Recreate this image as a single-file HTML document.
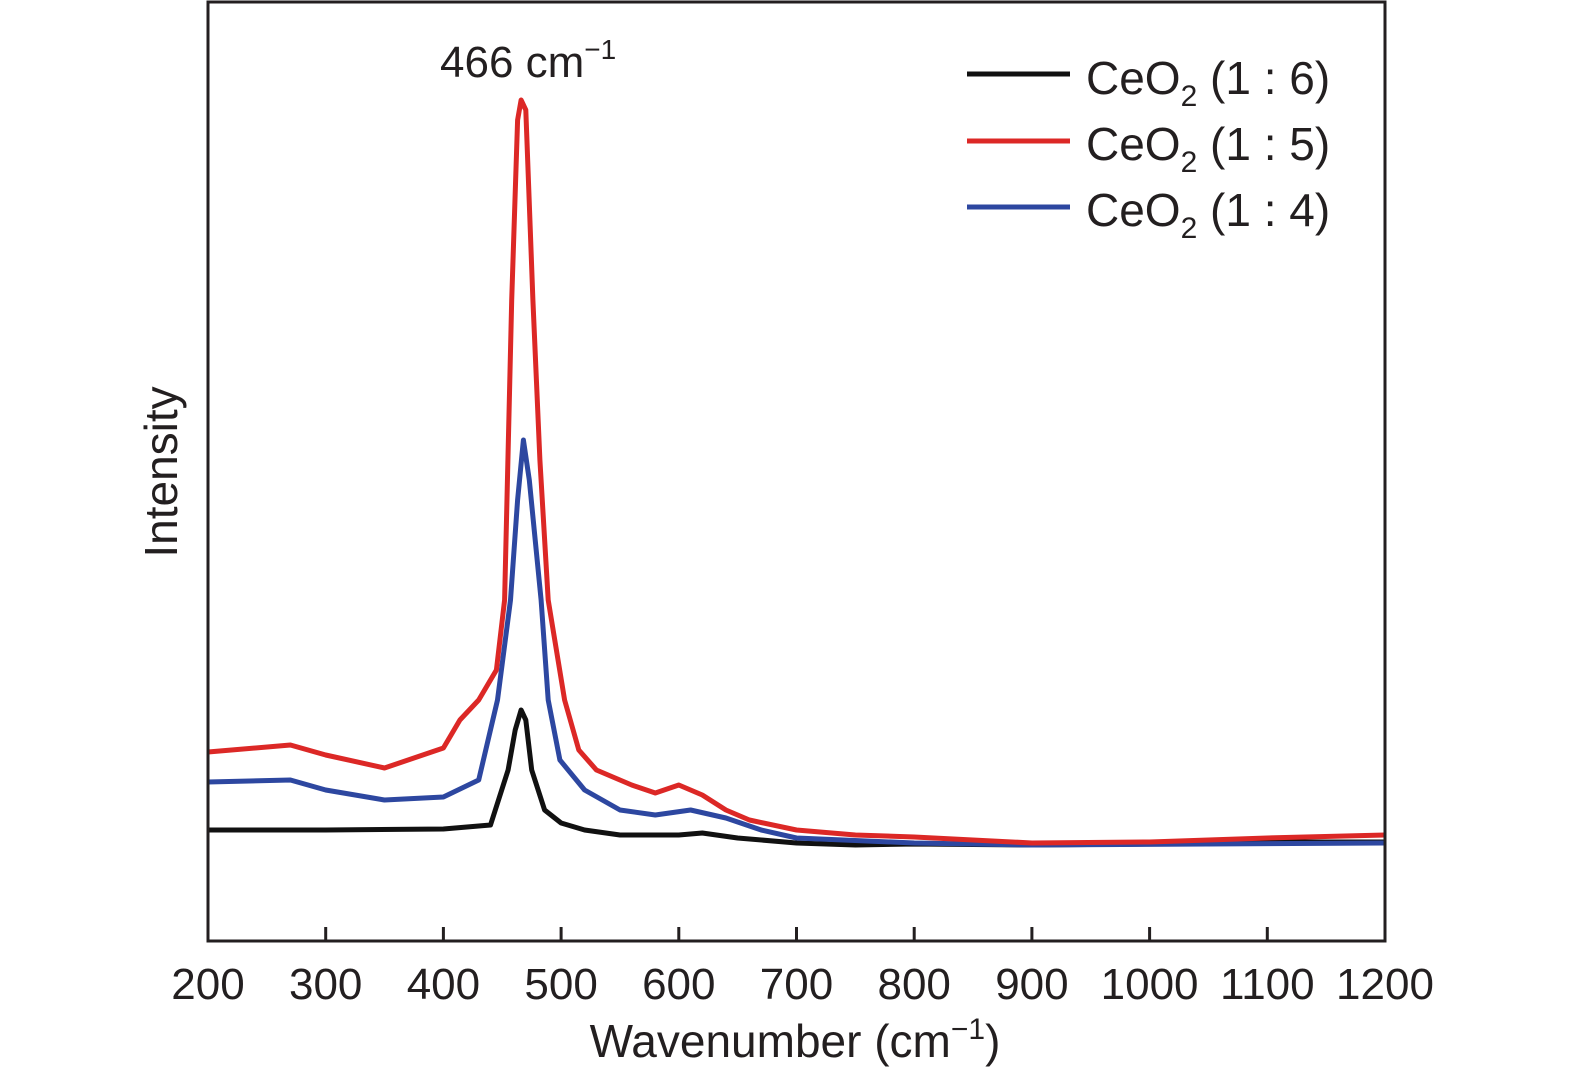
<!DOCTYPE html>
<html><head><meta charset="utf-8"><style>
body{margin:0;background:#fff;}
svg text{font-family:"Liberation Sans",sans-serif;fill:#231f20;}
</style></head><body>
<svg id="chart" width="1575" height="1079" viewBox="0 0 1575 1079" xmlns="http://www.w3.org/2000/svg">
<g id="series"></g>
<rect x="208" y="2" width="1177" height="939" fill="none" stroke="#231f20" stroke-width="3"/>
<g id="ticks"></g>
<text x="795" y="1057" font-size="46" text-anchor="middle">Wavenumber (cm<tspan font-size="30" dy="-18">−1</tspan><tspan dy="18">)</tspan></text>
<text transform="translate(177,472) rotate(-90)" font-size="46" text-anchor="middle">Intensity</text>
<text x="440" y="77" font-size="44">466 cm<tspan font-size="28" dy="-18">−1</tspan></text>
<g>
<line x1="967" y1="74" x2="1070" y2="74" stroke="#111" stroke-width="5"/>
<text x="1086" y="94" font-size="46">CeO<tspan font-size="30" dy="12">2</tspan><tspan dy="-12"> (1 : 6)</tspan></text>
<line x1="967" y1="141" x2="1070" y2="141" stroke="#dc2826" stroke-width="5"/>
<text x="1086" y="160" font-size="46">CeO<tspan font-size="30" dy="12">2</tspan><tspan dy="-12"> (1 : 5)</tspan></text>
<line x1="967" y1="207" x2="1070" y2="207" stroke="#2d47a0" stroke-width="5"/>
<text x="1086" y="226" font-size="46">CeO<tspan font-size="30" dy="12">2</tspan><tspan dy="-12"> (1 : 4)</tspan></text>
</g>
</svg>
<script>
const xTicks=[200,300,400,500,600,700,800,900,1000,1100,1200];
const blackX=[200,300,400,440,455,461,466,470,475,486,500,520,550,600,620,650,700,750,800,900,1000,1100,1200];
const blackY=[111,111,112,116,171,211,231,221,171,131,118,111,106,106,108,103,98,96,97,96,97,99,99];
const redX=[200,270,300,350,400,414,430,445,452,458,463,466,470,476,482,489,503,515,530,560,580,600,620,640,660,700,750,800,900,1000,1100,1200];
const redY=[189,196,186,173,193,221,241,271,341,641,821,841,831,641,481,341,241,191,171,156,148,156,146,131,121,111,106,104,98,99,103,106];
const blueX=[200,270,300,350,400,430,446,457,463,468,473,483,489,499,520,550,580,610,640,670,700,800,900,1200];
const blueY=[159,161,151,141,144,161,241,341,441,501,461,341,241,181,151,131,126,131,123,111,103,98,96,98];
const X0=208,X1=1385,Y0=941,Y1=2;
const sx=v=>X0+(v-200)/1000*(X1-X0);
const sy=v=>Y0-v/939*(Y0-Y1);
const NS="http://www.w3.org/2000/svg";
const g=document.getElementById('series');
function draw(xs,ys,color,name){
  const p=document.createElementNS(NS,'path');
  p.setAttribute('d',xs.map((x,i)=>(i?'L':'M')+sx(x).toFixed(1)+','+sy(ys[i]).toFixed(1)).join(''));
  p.setAttribute('fill','none');p.setAttribute('stroke',color);p.setAttribute('stroke-width','5');p.setAttribute('stroke-linejoin','round');
  
  
  g.appendChild(p);
}
draw(blackX,blackY,'#111','series-1-6');
draw(blueX,blueY,'#2d47a0','series-1-4');
draw(redX,redY,'#dc2826','series-1-5');
const t=document.getElementById('ticks');
xTicks.forEach(v=>{
  const l=document.createElementNS(NS,'line');
  l.setAttribute('x1',sx(v));l.setAttribute('x2',sx(v));l.setAttribute('y1',941);l.setAttribute('y2',927);
  l.setAttribute('stroke','#231f20');l.setAttribute('stroke-width','3');
  
  
  t.appendChild(l);
  const tx=document.createElementNS(NS,'text');
  tx.setAttribute('x',sx(v));tx.setAttribute('y',999);tx.setAttribute('font-size','44');tx.setAttribute('text-anchor','middle');
  tx.textContent=v;
  
  
  t.appendChild(tx);
});
</script>
</body></html>
